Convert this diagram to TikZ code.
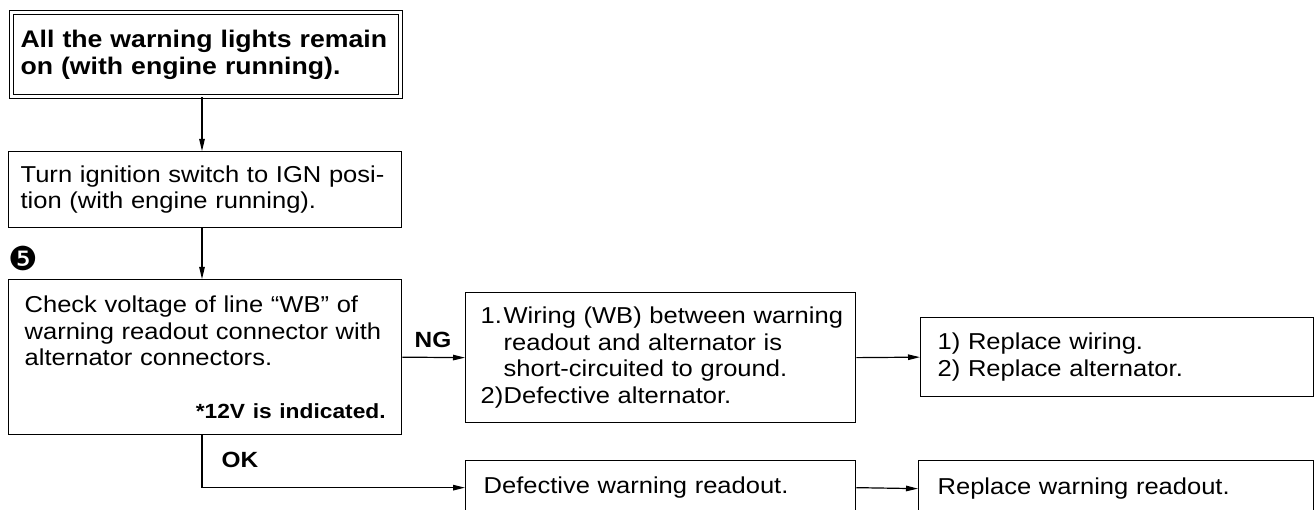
\documentclass[tikz,border=0pt]{standalone}
\usepackage{fontspec}
\setmainfont{Liberation Sans}[FakeStretch=1.11]
\newfontfamily\dingfont{DejaVu Sans}
\usetikzlibrary{arrows.meta}
\begin{document}
\begin{tikzpicture}[x=1pt,y=1pt,
  txt/.style={font=\fontsize{23}{26.5}\selectfont},
  box/.style={draw, line width=1.3pt, rectangle, inner ysep=0pt, align=left, anchor=north west, txt},
  conn/.style={line width=1.2pt, -{Triangle[length=12pt,width=5.5pt]}},
  lbl/.style={font=\fontsize{22}{26}\selectfont\bfseries, inner sep=0pt}
]
\useasboundingbox (0,0) rectangle (1314,-510);
\clip (0,0) rectangle (1314,-510);
\fill[white] (0,0) rectangle (1314,-510);

\coordinate (ax) at (202,0);

\node[box, double, line width=1pt, double distance=3pt, inner xsep=9.5pt,
      text width=370pt, minimum width=389pt, minimum height=84pt,
      font=\fontsize{24}{26.5}\selectfont\bfseries] (top) at (10.5,-12.5)
  {All the warning lights remain\\on (with engine running).};

\node[box, inner xsep=12pt, text width=369pt, minimum width=393pt, minimum height=76pt] (ign) at (8,-151)
  {Turn ignition switch to IGN posi-\\tion (with engine running).};

\node[font=\dingfont\fontsize{33}{33}\selectfont, inner sep=0pt] (five) at (23,-258) {❺};

\node[box, inner xsep=16pt, text width=361pt, minimum width=393pt, minimum height=155pt] (check) at (8,-279)
  {Check voltage of line ``WB'' of\\warning readout connector with\\alternator connectors.\\[26pt]\mbox{}\hfill{\fontsize{20.5}{26.5}\selectfont\bfseries *12V is indicated.}};

\node[box, inner xsep=15pt, text width=360pt, minimum width=390pt, minimum height=130pt] (cause) at (465,-292)
  {\mbox{\hbox to 23pt{1.\hfil}Wiring (WB) between warning}\\\mbox{\hbox to 23pt{\hfil}readout and alternator is}\\\mbox{\hbox to 23pt{\hfil}short-circuited to ground.}\\\mbox{\hbox to 23pt{2)\hfil}Defective alternator.}};

\node[box, inner xsep=17pt, text width=359pt, minimum width=393pt, minimum height=79pt] (fix) at (920,-317)
  {1) Replace wiring.\\2) Replace alternator.};

\node[box, inner xsep=18pt, text width=354pt, minimum width=390pt, minimum height=54pt] (defect) at (465,-460)
  {Defective warning readout.};

\node[box, inner xsep=19pt, text width=357pt, minimum width=395pt, minimum height=56pt] (repl) at (918,-460)
  {Replace warning readout.};

\draw[conn] (top.south -| ax) -- (ign.north -| ax);
\draw[conn] (ign.south -| ax) -- (check.north -| ax);
\draw[conn] (check.east) -- (cause.west);
\node[lbl] (ng) at (433,-340) {NG};
\draw[conn] (cause.east) -- (fix.west);
\draw[conn] (check.south -| ax) |- (defect.west);
\node[lbl] (ok) at (240,-460) {OK};
\draw[conn] (defect.east) -- (repl.west);
\end{tikzpicture}
\end{document}
